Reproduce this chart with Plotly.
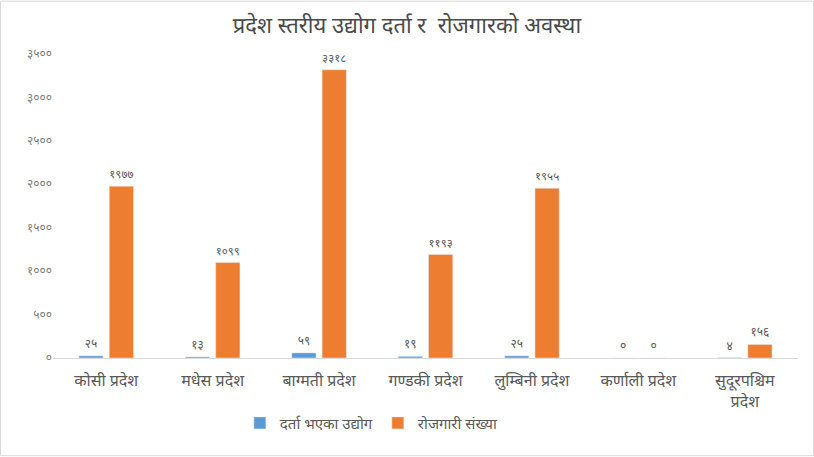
import plotly.graph_objects as go

categories = ["कोसी प्रदेश", "मधेस प्रदेश", "बाग्मती प्रदेश", "गण्डकी प्रदेश",
              "लुम्बिनी प्रदेश", "कर्णाली प्रदेश", "सुदूरपश्चिम<br>प्रदेश"]
industries = [25, 13, 59, 19, 25, 0, 4]
employment = [1977, 1099, 3318, 1193, 1955, 0, 156]
series_names = ["दर्ता भएका उद्योग", "रोजगारी संख्या"]
tick_values = [0, 500, 1000, 1500, 2000, 2500, 3000, 3500]
title_text = "प्रदेश स्तरीय उद्योग दर्ता र  रोजगारको अवस्था"

DEV = str.maketrans("0123456789", "०१२३४५६७८९")
def dev(n):
    return str(n).translate(DEV)

FONT = "Noto Sans Devanagari, Noto Sans, sans-serif"
GRAY = "#595959"

fig = go.Figure()
fig.add_trace(go.Bar(
    x=categories, y=industries, name=series_names[0],
    marker_color="#5B9BD5",
    text=[dev(v) for v in industries], textposition="outside",
    textfont=dict(size=12, color=GRAY), cliponaxis=False,
))
fig.add_trace(go.Bar(
    x=categories, y=employment, name=series_names[1],
    marker_color="#ED7D31",
    text=[dev(v) for v in employment], textposition="outside",
    textfont=dict(size=12, color=GRAY), cliponaxis=False,
))

fig.update_layout(
    width=814, height=457,
    margin=dict(l=53, r=16, t=54, b=99),
    paper_bgcolor="white", plot_bgcolor="white",
    font=dict(family=FONT, color=GRAY),
    title=dict(text=title_text, x=0.5, xanchor="center", y=0.945, yanchor="middle",
               font=dict(size=22, color="#4a4a4a", family=FONT)),
    barmode="group", bargap=0.43, bargroupgap=0.2,
    showlegend=True,
    legend=dict(orientation="h", x=0.428, xanchor="center", y=-0.16, yanchor="top",
                font=dict(size=15, color=GRAY), itemwidth=30),
    xaxis=dict(showline=True, linecolor="#D9D9D9", linewidth=1, ticks="",
               tickfont=dict(size=16, color=GRAY), showgrid=False, automargin=False,
               ticklabelstandoff=8),
    yaxis=dict(range=[0, 3500], tickvals=tick_values,
               ticktext=[dev(v) for v in tick_values],
               showgrid=False, zeroline=False, showline=False, automargin=False,
               tickfont=dict(size=12, color="#7f7f7f")),
    shapes=[dict(type="rect", xref="paper", yref="paper",
                 x0=-0.0705, x1=1.0208, y0=-0.3213, y1=1.1738,
                 line=dict(color="#D9D9D9", width=1))],
)

fig.write_html("out.html", config={"displayModeBar": False},
               post_script="document.body.style.margin='0';document.body.style.overflow='hidden';")
